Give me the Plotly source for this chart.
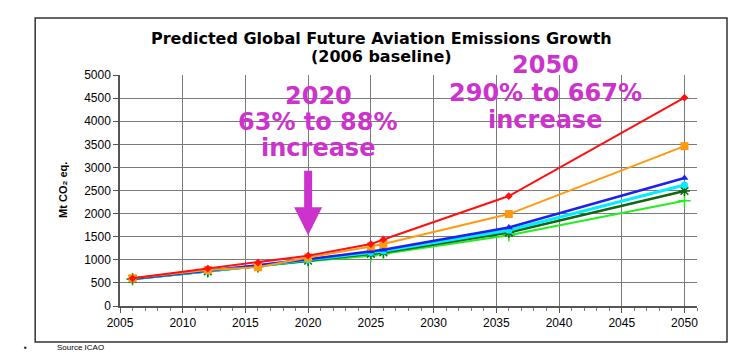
import plotly.graph_objects as go

years = [2006, 2012, 2016, 2020, 2025, 2026, 2036, 2050]
red = [600, 810, 940, 1090, 1340, 1440, 2380, 4510]
orange = [600, 780, 840, 1050, 1290, 1340, 1990, 3460]
blue = [590, 760, 880, 1010, 1180, 1220, 1700, 2770]
cyan = [590, 755, 870, 1000, 1160, 1190, 1640, 2620]
dkgreen = [585, 750, 860, 980, 1130, 1160, 1590, 2490]
ltgreen = [580, 745, 850, 970, 1090, 1130, 1530, 2280]

fig = go.Figure()
series = [
    (ltgreen, "#22EE22", "cross-thin-open", 9, 2),
    (dkgreen, "#116611", "asterisk-open", 9, 2.5),
    (cyan, "#00EEFF", "circle", 7, 3),
    (blue, "#1F1FEE", "triangle-up", 7, 2.5),
    (orange, "#FF9910", "square", 8, 2),
    (red, "#FF1010", "diamond", 6, 2),
]
for vals, col, sym, sz, w in series:
    mk = dict(symbol=sym, size=sz, color=col)
    if sym in ("asterisk-open", "cross-thin-open"):
        mk["line"] = dict(color=col if sym == "cross-thin-open" else "#33DD33", width=1.5)
    fig.add_trace(go.Scatter(x=years, y=vals, mode="lines+markers",
                             line=dict(color=col, width=w), marker=mk,
                             showlegend=False))

fig.update_layout(
    width=746, height=352,
    margin=dict(l=112, r=57, t=67, b=54),
    paper_bgcolor="white", plot_bgcolor="white",
    font=dict(family="Liberation Sans, Arial", size=12, color="black"),
    xaxis=dict(range=[2005, 2051], tick0=2005, dtick=5, showgrid=True,
               gridcolor="#7a7a7a", gridwidth=1, showline=True, linecolor="#555",
               linewidth=1.5, ticks="outside", ticklen=5, tickcolor="#555",
               minor=dict(dtick=1, ticks="outside", ticklen=3, tickcolor="#777", showgrid=False),
               zeroline=False, tickfont=dict(size=12)),
    yaxis=dict(range=[0, 5000], dtick=500, showgrid=True, gridcolor="#7a7a7a",
               gridwidth=1, showline=True, linecolor="#555", linewidth=1.5,
               ticks="outside", ticklen=5, tickcolor="#555", zeroline=False,
               tickfont=dict(size=12)),
)

fig.add_shape(type="rect", xref="paper", yref="paper", x0=-0.147, x1=1.052,
              y0=-0.156, y1=1.247, line=dict(color="#333", width=1.5), layer="below")

tfont = dict(family="DejaVu Sans", size=16, color="black")
fig.add_annotation(xref="paper", yref="paper", x=0.454, y=1.160, xanchor="center",
                   yanchor="middle",
                   text="<b>Predicted Global Future Aviation Emissions Growth</b>",
                   showarrow=False, font=tfont)
fig.add_annotation(xref="paper", yref="paper", x=0.454, y=1.082, xanchor="center",
                   yanchor="middle",
                   text="<b>(2006 baseline)</b>", showarrow=False, font=tfont)

fig.add_annotation(xref="paper", yref="paper", x=-0.099, y=0.502, textangle=-90,
                   xanchor="center", yanchor="middle",
                   text="<b>Mt CO₂ eq.</b>", showarrow=False,
                   font=dict(family="Liberation Sans", size=11, color="black"))

mag = "#CC33CC"
mfont = dict(family="DejaVu Sans", size=24, color=mag)
for txt, xv, yv in [("2020", 2020.8, 0.909), ("63% to 88%", 2020.8, 0.797),
                    ("increase", 2020.8, 0.684),
                    ("2050", 2038.9, 1.043), ("290% to 667%", 2038.9, 0.922),
                    ("increase", 2038.9, 0.805)]:
    fig.add_annotation(x=xv, y=yv, xref="x", yref="paper", text=f"<b>{txt}</b>",
                       xanchor="center", yanchor="middle",
                       showarrow=False, font=mfont)

fig.add_annotation(x=2020, y=1530, xref="x", yref="y", ax=0, ay=-66, text="",
                   showarrow=True, arrowhead=2, arrowsize=0.7, arrowwidth=8,
                   arrowcolor=mag)

fig.add_annotation(xref="paper", yref="paper", x=-0.113, y=-0.18, xanchor="left",
                   yanchor="middle",
                   text="Source ICAO", showarrow=False,
                   font=dict(family="Liberation Sans", size=8, color="black"))
fig.add_annotation(xref="paper", yref="paper", x=-0.17, y=-0.18, xanchor="left",
                   yanchor="middle",
                   text="▪", showarrow=False,
                   font=dict(family="Liberation Sans", size=8, color="black"))

fig.write_html("out.html")
